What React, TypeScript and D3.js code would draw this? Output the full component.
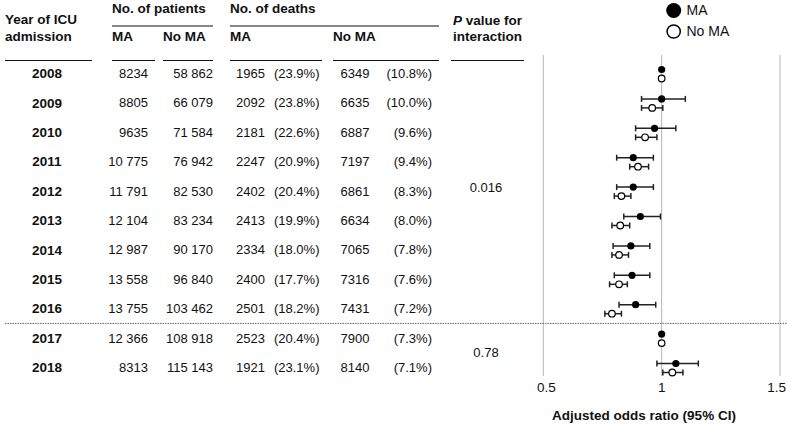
import { useEffect } from "react";
import * as d3 from "d3";

const years = ["2008", "2009", "2010", "2011", "2012", "2013", "2014", "2015", "2016", "2017", "2018"];
const patientsMA = [8234, 8805, 9635, 10775, 11791, 12104, 12987, 13558, 13755, 12366, 8313];
const patientsNoMA = [58862, 66079, 71584, 76942, 82530, 83234, 90170, 96840, 103462, 108918, 115143];
const deathsMA = [1965, 2092, 2181, 2247, 2402, 2413, 2334, 2400, 2501, 2523, 1921];
const deathsMAPct = ["23.9", "23.8", "22.6", "20.9", "20.4", "19.9", "18.0", "17.7", "18.2", "20.4", "23.1"];
const deathsNoMA = [6349, 6635, 6887, 7197, 6861, 6634, 7065, 7316, 7431, 7900, 8140];
const deathsNoMAPct = ["10.8", "10.0", "9.6", "9.4", "8.3", "8.0", "7.8", "7.6", "7.2", "7.3", "7.1"];

// adjusted odds ratios (reference years have no CI)
const orMA = [1, 1.0, 0.97, 0.88, 0.88, 0.91, 0.87, 0.875, 0.89, 1, 1.06];
const loMA = [null, 0.915, 0.89, 0.81, 0.81, 0.84, 0.795, 0.8, 0.82, null, 0.98];
const hiMA = [null, 1.1, 1.06, 0.965, 0.965, 0.995, 0.95, 0.95, 0.975, null, 1.155];
const orNoMA = [1, 0.96, 0.93, 0.9, 0.83, 0.825, 0.82, 0.82, 0.79, 1, 1.045];
const loNoMA = [null, 0.915, 0.89, 0.865, 0.8, 0.79, 0.79, 0.78, 0.76, null, 1.005];
const hiNoMA = [null, 1.005, 0.98, 0.945, 0.87, 0.865, 0.86, 0.855, 0.83, null, 1.09];

const xTicks = [0.5, 1, 1.5];
const pValues = [
  { label: "0.016", from: 0, to: 8 },
  { label: "0.78", from: 9, to: 10 },
];

const FONT = "'Liberation Sans', Arial, sans-serif";
const fmtGroup = d3.formatLocale({ decimal: ".", thousands: " ", grouping: [3], currency: ["", ""] }).format(",d");
const fmtNum = (n: number) => (n >= 10000 ? fmtGroup(n) : String(n));

export default function App() {
  useEffect(() => {
    document.body.style.margin = "0";
  }, []);

  const width = 787;
  const height = 425;

  const x = d3.scaleLinear().domain([0.5, 1.5]).range([543.3, 780]);
  const y = d3.scaleLinear().domain([0, years.length - 1]).range([73.5, 367.5]);
  const splitY = (y(8) + y(9)) / 2;

  const txt = { fontFamily: FONT, fontSize: 13, fill: "#111" } as const;
  const head = { fontFamily: FONT, fontSize: 13.5, fontWeight: 700, fill: "#111" } as const;

  const bar = (i: number, or: number, lo: number | null, hi: number | null, cy: number, filled: boolean) => (
    <g key={`${filled ? "m" : "n"}${i}`}>
      {lo != null && hi != null && (
        <g stroke="#222" strokeWidth={1.5}>
          <line x1={x(lo)} x2={x(hi)} y1={cy} y2={cy} />
          <line x1={x(lo)} x2={x(lo)} y1={cy - 3} y2={cy + 3} />
          <line x1={x(hi)} x2={x(hi)} y1={cy - 3} y2={cy + 3} />
        </g>
      )}
      <circle
        cx={x(or)}
        cy={cy}
        r={filled ? 3.6 : 3.3}
        fill={filled ? "#000" : "#fff"}
        stroke="#000"
        strokeWidth={filled ? 0 : 1.2}
      />
    </g>
  );

  return (
    <svg width={width} height={height} style={{ display: "block" }}>
      {/* header */}
      <text x={5} y={19} dy="0.35em" {...head}>Year of ICU</text>
      <text x={5} y={36} dy="0.35em" {...head}>admission</text>
      <text x={112} y={8} dy="0.35em" {...head}>No. of patients</text>
      <text x={230} y={8} dy="0.35em" {...head}>No. of deaths</text>
      <text x={112} y={36} dy="0.35em" {...head}>MA</text>
      <text x={163} y={36} dy="0.35em" {...head}>No MA</text>
      <text x={230} y={36} dy="0.35em" {...head}>MA</text>
      <text x={333} y={36} dy="0.35em" {...head}>No MA</text>
      <text x={453} y={20} dy="0.35em" {...head}>
        <tspan fontStyle="italic">P</tspan> value for
      </text>
      <text x={453} y={36} dy="0.35em" {...head}>interaction</text>

      <g stroke="#111" strokeWidth={1}>
        <line x1={112} x2={213} y1={26} y2={26} />
        <line x1={230} x2={439} y1={26} y2={26} />
        <line x1={5} x2={92} y1={60.5} y2={60.5} />
        <line x1={112} x2={155} y1={60.5} y2={60.5} />
        <line x1={163} x2={213} y1={60.5} y2={60.5} />
        <line x1={230} x2={322} y1={60.5} y2={60.5} />
        <line x1={333} x2={439} y1={60.5} y2={60.5} />
        <line x1={451} x2={524} y1={60.5} y2={60.5} />
      </g>

      {/* legend */}
      <circle cx={673.7} cy={10.5} r={7.5} fill="#000" />
      <text x={686.5} y={10.5} dy="0.35em" {...txt} fontSize={14}>MA</text>
      <circle cx={673.7} cy={31.5} r={6.6} fill="#fff" stroke="#000" strokeWidth={1.5} />
      <text x={686.5} y={31.5} dy="0.35em" {...txt} fontSize={14}>No MA</text>

      {/* gridlines */}
      {xTicks.map((t) => (
        <line key={t} x1={x(t)} x2={x(t)} y1={55} y2={376} stroke="#b5b5b5" strokeWidth={1} />
      ))}

      {/* table rows */}
      {years.map((yr, i) => {
        const cy = y(i);
        return (
          <g key={yr}>
            <text x={47} y={cy} dy="0.35em" textAnchor="middle" {...head}>{yr}</text>
            <text x={148} y={cy} dy="0.35em" textAnchor="end" {...txt}>{fmtNum(patientsMA[i])}</text>
            <text x={213} y={cy} dy="0.35em" textAnchor="end" {...txt}>{fmtNum(patientsNoMA[i])}</text>
            <text x={265} y={cy} dy="0.35em" textAnchor="end" {...txt}>{fmtNum(deathsMA[i])}</text>
            <text x={319.5} y={cy} dy="0.35em" textAnchor="end" {...txt}>({deathsMAPct[i]}%)</text>
            <text x={369.5} y={cy} dy="0.35em" textAnchor="end" {...txt}>{fmtNum(deathsNoMA[i])}</text>
            <text x={432} y={cy} dy="0.35em" textAnchor="end" {...txt}>({deathsNoMAPct[i]}%)</text>
          </g>
        );
      })}

      {pValues.map((p) => (
        <text key={p.label} x={486} y={(y(p.from) + y(p.to)) / 2 - (p.from === 0 ? 4 : 0)} dy="0.35em" textAnchor="middle" {...txt}>
          {p.label}
        </text>
      ))}

      <line x1={5} x2={787} y1={splitY} y2={splitY} stroke="#666" strokeWidth={1} strokeDasharray="1.5,1" />

      {/* forest plot */}
      {years.map((_, i) => bar(i, orMA[i], loMA[i], hiMA[i], y(i) - 4, true))}
      {years.map((_, i) => bar(i, orNoMA[i], loNoMA[i], hiNoMA[i], y(i) + 5, false))}

      {/* axis */}
      {xTicks.map((t, k) => {
        const last = k === xTicks.length - 1;
        return (
          <text
            key={t}
            x={last ? width - 1 : x(t) + (t === 0.5 ? 3 : 0)}
            y={387}
            dy="0.35em"
            textAnchor={last ? "end" : "middle"}
            {...txt}
            fontSize={13.5}
          >
            {d3.format("")(t)}
          </text>
        );
      })}
      <text x={644} y={415} dy="0.35em" textAnchor="middle" {...head}>
        Adjusted odds ratio (95% CI)
      </text>
    </svg>
  );
}
